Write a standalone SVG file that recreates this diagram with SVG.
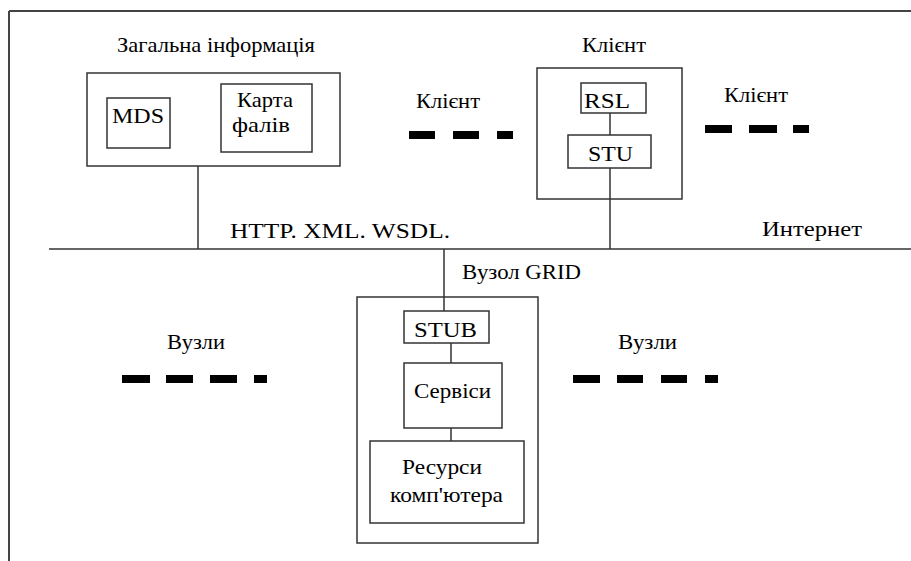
<svg xmlns="http://www.w3.org/2000/svg" width="911" height="561" viewBox="0 0 911 561">
<style>
  text { font-family: 'Times New Roman', 'Liberation Serif', Tinos, 'Nimbus Roman', FreeSerif, 'DejaVu Serif', serif; font-size: 22px; fill: #000; }
  .box { fill: none; stroke: #333; stroke-width: 1.5; }
  .ln { stroke: #333; stroke-width: 1.5; fill: none; }
  .frame { stroke: #444; stroke-width: 2; fill: none; }
  .dash { stroke: #000; stroke-width: 8; fill: none; }
</style>
<rect width="911" height="561" fill="#fff"/>
<g id="frame">
  <line class="frame" x1="9" y1="11" x2="911" y2="11"/>
  <line class="frame" x1="9" y1="11" x2="9" y2="561"/>
</g>
<g id="connectors">
  <line class="ln" x1="49" y1="249" x2="911" y2="249"/>
  <line class="ln" x1="198" y1="166" x2="198" y2="249"/>
  <line class="ln" x1="610" y1="113" x2="610" y2="135"/>
  <line class="ln" x1="610" y1="168" x2="610" y2="249"/>
  <line class="ln" x1="444" y1="249" x2="444" y2="311"/>
  <line class="ln" x1="451" y1="343" x2="451" y2="363"/>
  <line class="ln" x1="451" y1="428" x2="451" y2="441"/>
</g>
<g id="info-node">
  <text x="117" y="52" textLength="198" lengthAdjust="spacingAndGlyphs">Загальна інформація</text>
  <rect class="box" x="87" y="73" width="253" height="93"/>
</g>
<g id="mds">
  <rect class="box" x="107" y="98" width="63" height="50"/>
  <text x="112" y="123" textLength="52" lengthAdjust="spacingAndGlyphs">MDS</text>
</g>
<g id="filemap">
  <rect class="box" x="221" y="84" width="91" height="68"/>
  <text x="237" y="107" textLength="56" lengthAdjust="spacingAndGlyphs">Карта</text>
  <text x="232" y="132" textLength="58" lengthAdjust="spacingAndGlyphs">фалів</text>
</g>
<g id="client-node">
  <text x="582" y="52" textLength="64" lengthAdjust="spacingAndGlyphs">Клієнт</text>
  <rect class="box" x="537" y="68" width="145" height="131"/>
</g>
<g id="rsl">
  <rect class="box" x="581" y="83" width="65" height="30"/>
  <text x="584" y="108" textLength="46" lengthAdjust="spacingAndGlyphs">RSL</text>
</g>
<g id="stu">
  <rect class="box" x="568" y="135" width="83" height="33"/>
  <text x="588" y="161" textLength="45" lengthAdjust="spacingAndGlyphs">STU</text>
</g>
<g id="clients-left">
  <text x="416" y="108" textLength="64" lengthAdjust="spacingAndGlyphs">Клієнт</text>
  <path class="dash" d="M409 135H435M453 135H479M497 135H513"/>
</g>
<g id="clients-right">
  <text x="724" y="102" textLength="64" lengthAdjust="spacingAndGlyphs">Клієнт</text>
  <path class="dash" d="M705 129H732M749 129H777M793 129H809"/>
</g>
<g id="protocols">
  <text x="230" y="238" textLength="220" lengthAdjust="spacingAndGlyphs">HTTP. XML. WSDL.</text>
</g>
<g id="internet">
  <text x="762" y="236" textLength="100" lengthAdjust="spacingAndGlyphs">Интернет</text>
</g>
<g id="grid-node">
  <text x="462" y="279" textLength="119" lengthAdjust="spacingAndGlyphs">Вузол GRID</text>
  <rect class="box" x="357" y="297" width="181" height="246"/>
</g>
<g id="stub">
  <rect class="box" x="404" y="311" width="85" height="32"/>
  <text x="414" y="337" textLength="63" lengthAdjust="spacingAndGlyphs">STUB</text>
</g>
<g id="services">
  <rect class="box" x="404" y="363" width="98" height="65"/>
  <text x="414" y="398" textLength="77" lengthAdjust="spacingAndGlyphs">Сервіси</text>
</g>
<g id="resources">
  <rect class="box" x="370" y="441" width="154" height="82"/>
  <text x="402" y="474" textLength="80" lengthAdjust="spacingAndGlyphs">Ресурси</text>
  <text x="390" y="502" textLength="113" lengthAdjust="spacingAndGlyphs">комп'ютера</text>
</g>
<g id="nodes-left">
  <text x="167" y="349" textLength="58" lengthAdjust="spacingAndGlyphs">Вузли</text>
  <path class="dash" d="M122 379H150M166 379H193M210 379H237M254 379H267"/>
</g>
<g id="nodes-right">
  <text x="618" y="349" textLength="59" lengthAdjust="spacingAndGlyphs">Вузли</text>
  <path class="dash" d="M573 379H600M617 379H643M661 379H687M705 379H718"/>
</g>
</svg>
